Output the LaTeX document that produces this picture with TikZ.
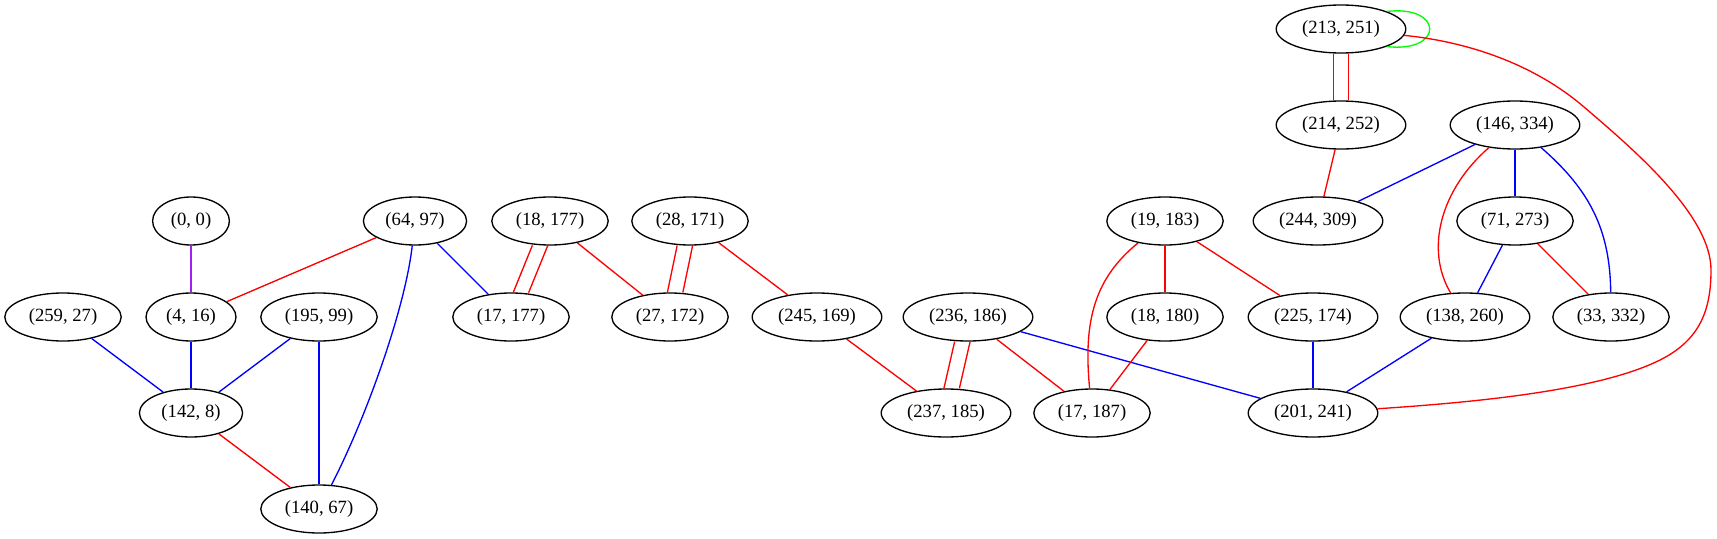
\documentclass[tikz,border=0pt]{standalone}
\usepackage{fontspec}
\setmainfont{Liberation Serif}
\usepackage{tikz}
\usetikzlibrary{shapes.geometric}
\definecolor{gvpurple}{RGB}{160,32,240}
\definecolor{gvgreen}{RGB}{0,255,0}
\tikzset{
        vert/.style={draw, ellipse, line width=1pt, minimum height=36pt,
                     inner xsep=5.2pt, inner ysep=2pt,
                     font=\fontsize{14}{16}\selectfont},
        link/.style={line width=1pt},
        lanel/.style={link, transform canvas={xshift=-5.8pt}},
        laner/.style={link, transform canvas={xshift=5.8pt}},
 }
\begin{document}
\begin{tikzpicture}[x=0.75pt, y=-0.75pt]
    \useasboundingbox (0,0) rectangle (1717,539);

    \node[vert] (n213-251) at (1341,29) {(213, 251)};
    \node[vert] (n214-252) at (1341,125) {(214, 252)};
    \node[vert] (n146-334) at (1515,125) {(146, 334)};

    \node[vert] (n0-0) at (191,221) {(0, 0)};
    \node[vert] (n64-97) at (415,221) {(64, 97)};
    \node[vert] (n18-177) at (550,221) {(18, 177)};
    \node[vert] (n28-171) at (690,221) {(28, 171)};
    \node[vert] (n19-183) at (1165,221) {(19, 183)};
    \node[vert] (n244-309) at (1318,221) {(244, 309)};
    \node[vert] (n71-273) at (1515,221) {(71, 273)};

    \node[vert] (n259-27) at (63,317) {(259, 27)};
    \node[vert] (n4-16) at (191,317) {(4, 16)};
    \node[vert] (n195-99) at (319,317) {(195, 99)};
    \node[vert] (n17-177) at (511,317) {(17, 177)};
    \node[vert] (n27-172) at (670,317) {(27, 172)};
    \node[vert] (n245-169) at (817,317) {(245, 169)};
    \node[vert] (n236-186) at (968,317) {(236, 186)};
    \node[vert] (n18-180) at (1165,317) {(18, 180)};
    \node[vert] (n225-174) at (1313,317) {(225, 174)};
    \node[vert] (n138-260) at (1465,317) {(138, 260)};
    \node[vert] (n33-332) at (1611,317) {(33, 332)};

    \node[vert] (n142-8) at (191,413) {(142, 8)};
    \node[vert] (n237-185) at (946,413) {(237, 185)};
    \node[vert] (n17-187) at (1092,413) {(17, 187)};
    \node[vert] (n201-241) at (1313,413) {(201, 241)};

    \node[vert] (n140-67) at (319,509) {(140, 67)};

    % left part
    \draw[link, gvpurple] (n0-0) -- (n4-16);
    \draw[link, red] (n64-97) -- (n4-16);
    \draw[link, blue] (n64-97) -- (n17-177);
    \draw[link, blue] (n64-97) .. controls (405,310) and (365,420) .. (n140-67);
    \draw[link, blue] (n259-27) -- (n142-8);
    \draw[link, blue] (n4-16) -- (n142-8);
    \draw[link, blue] (n195-99) -- (n142-8);
    \draw[link, blue] (n195-99) -- (n140-67);
    \draw[link, red] (n142-8) -- (n140-67);

    % middle part
    \draw[lanel, red] (n18-177) -- (n17-177);
    \draw[laner, red] (n18-177) -- (n17-177);
    \draw[link, red] (n18-177) -- (n27-172);
    \draw[lanel, red] (n28-171) -- (n27-172);
    \draw[laner, red] (n28-171) -- (n27-172);
    \draw[link, red] (n28-171) -- (n245-169);
    \draw[link, red] (n245-169) -- (n237-185);
    \draw[lanel, red] (n236-186) -- (n237-185);
    \draw[laner, red] (n236-186) -- (n237-185);
    \draw[link, red] (n236-186) -- (n17-187);
    \draw[link, blue] (n236-186) -- (n201-241);
    \draw[link, red] (n19-183) .. controls (1095,278) and (1083,320) .. (n17-187);
    \draw[link, red] (n19-183) -- (n18-180);
    \draw[link, red] (n19-183) -- (n225-174);
    \draw[link, red] (n18-180) -- (n17-187);
    \draw[link, blue] (n225-174) -- (n201-241);
    \draw[link, blue] (n138-260) -- (n201-241);

    % right part
    \draw[link, gvgreen] (n213-251.21) .. controls (1444,5) and (1444,53) .. (n213-251.-21);
    \draw[lanel, red] (n213-251) -- (n214-252);
    \draw[laner, red] (n213-251) -- (n214-252);
    \draw[link, red] (n213-251) .. controls (1470,42) and (1535,65) .. (1584,107)
        .. controls (1633,149) and (1711,215) .. (1711,270)
        .. controls (1711,310) and (1700,340) .. (1660,360)
        .. controls (1600,390) and (1480,402) .. (n201-241);
    \draw[link, red] (n214-252) -- (n244-309);
    \draw[link, blue] (n146-334) -- (n244-309);
    \draw[link, blue] (n146-334) -- (n71-273);
    \draw[link, red] (n146-334) .. controls (1440,190) and (1425,250) .. (n138-260);
    \draw[link, blue] (n146-334) .. controls (1590,190) and (1610,230) .. (n33-332);
    \draw[link, blue] (n71-273) -- (n138-260);
    \draw[link, red] (n71-273) -- (n33-332);
\end{tikzpicture}
\end{document}
